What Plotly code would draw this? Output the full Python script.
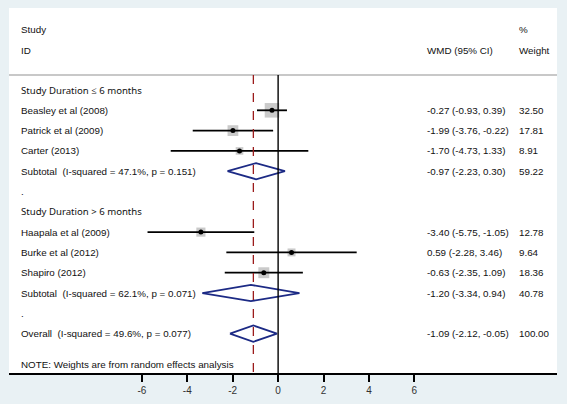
import plotly.graph_objects as go

# individual studies
studies = ["Beasley et al (2008)", "Patrick et al (2009)", "Carter (2013)",
           "Haapala et al (2009)", "Burke et al (2012)", "Shapiro (2012)"]
wmd = [-0.27, -1.99, -1.70, -3.40, 0.59, -0.63]
ci_lo = [-0.93, -3.76, -4.73, -5.75, -2.28, -2.35]
ci_hi = [0.39, -0.22, 1.33, -1.05, 3.46, 1.09]
weight = [32.50, 17.81, 8.91, 12.78, 9.64, 18.36]
study_rows = [2, 3, 4, 8, 9, 10]

# pooled estimates (two subtotals + overall)
pooled_labels = ["Subtotal  (I-squared = 47.1%, p = 0.151)",
                 "Subtotal  (I-squared = 62.1%, p = 0.071)",
                 "Overall  (I-squared = 49.6%, p = 0.077)"]
pooled_est = [-0.97, -1.20, -1.09]
pooled_lo = [-2.23, -3.34, -2.12]
pooled_hi = [0.30, 0.94, -0.05]
pooled_weight = [59.22, 40.78, 100.00]
pooled_rows = [5, 11, 13]

group_labels = ["Study Duration \u2264 6 months", "Study Duration > 6 months"]
group_rows = [1, 7]
blank_rows = [6, 12]

xticks = [-6, -4, -2, 0, 2, 4, 6]

X0, X1 = -11.85, 12.28
Y_BOTTOM, Y_TOP = 14.94, -3.04
SEP = 0.26
COL_STUDY, COL_CI, COL_W = -11.42, 6.45, 10.5

fig = go.Figure()

# weight boxes
fig.add_trace(go.Scatter(
    x=wmd, y=study_rows, mode="markers",
    marker=dict(symbol="square", color="#b4b4b4",
                size=[2.55 * w ** 0.5 for w in weight], line=dict(width=0)),
    hoverinfo="skip"))

# confidence intervals
cx, cy = [], []
for lo, hi, r in zip(ci_lo, ci_hi, study_rows):
    cx += [lo, hi, None]
    cy += [r, r, None]
fig.add_trace(go.Scatter(x=cx, y=cy, mode="lines",
                         line=dict(color="black", width=1.8), hoverinfo="skip"))

fig.add_trace(go.Scatter(x=wmd, y=study_rows, mode="markers",
                         marker=dict(symbol="circle", color="black", size=5),
                         hoverinfo="skip"))

# diamonds
dx, dy = [], []
for e, lo, hi, r in zip(pooled_est, pooled_lo, pooled_hi, pooled_rows):
    dx += [lo, e, hi, e, lo, None]
    dy += [r, r - 0.4, r, r + 0.4, r, None]
fig.add_trace(go.Scatter(x=dx, y=dy, mode="lines",
                         line=dict(color="#1c2a85", width=1.8), hoverinfo="skip"))

# reference lines
fig.add_shape(type="line", x0=X0, x1=X1, y0=SEP, y1=SEP,
              line=dict(color="#c8c8c8", width=2))
fig.add_shape(type="line", x0=0, x1=0, y0=SEP, y1=Y_BOTTOM,
              line=dict(color="black", width=1.4))
fig.add_shape(type="line", x0=pooled_est[-1], x1=pooled_est[-1], y0=SEP, y1=Y_BOTTOM,
              line=dict(color="#9b1b1b", width=1.3, dash="dash"))

txt = dict(family="Liberation Sans, Arial", size=9.8, color="#111111")
grp = dict(family="Noto Sans, Open Sans", size=9.6, color="#111111")


def label(x, y, s, font=txt):
    fig.add_annotation(x=x, y=y, text=s, showarrow=False, xanchor="left",
                       yanchor="middle", font=font)


label(COL_STUDY, -1.96, "Study")
label(COL_STUDY, -0.97, "ID")
label(COL_CI, -0.97, "WMD (95% CI)")
label(COL_W, -1.96, "%")
label(COL_W, -0.97, "Weight")

for g, r in zip(group_labels, group_rows):
    label(COL_STUDY, r, g, grp)
for r in blank_rows:
    label(COL_STUDY, r, ".")

for s, e, lo, hi, w, r in zip(studies, wmd, ci_lo, ci_hi, weight, study_rows):
    label(COL_STUDY, r, s)
    label(COL_CI, r, f"{e:.2f} ({lo:.2f}, {hi:.2f})")
    label(COL_W, r, f"{w:.2f}")

for s, e, lo, hi, w, r in zip(pooled_labels, pooled_est, pooled_lo, pooled_hi,
                              pooled_weight, pooled_rows):
    label(COL_STUDY, r, s)
    label(COL_CI, r, f"{e:.2f} ({lo:.2f}, {hi:.2f})")
    label(COL_W, r, f"{w:.2f}")

label(COL_STUDY, 14.5, "NOTE: Weights are from random effects analysis")

fig.update_layout(
    width=567, height=404,
    margin=dict(l=9, r=10, t=8, b=31),
    paper_bgcolor="#e9f1f4", plot_bgcolor="white",
    showlegend=False,
    xaxis=dict(range=[X0, X1], tickvals=xticks, ticktext=[str(t) for t in xticks],
               showgrid=False, zeroline=False, showline=True, linecolor="black",
               linewidth=1.5, ticks="outside", ticklen=7, tickwidth=1.5,
               tickcolor="black", tickfont=dict(family="Liberation Sans, Arial",
                                                size=10, color="#333333")),
    yaxis=dict(range=[Y_BOTTOM, Y_TOP], visible=False),
)

fig.write_html("out.html", config={"displayModeBar": False},
               post_script="document.body.style.margin='0';")
